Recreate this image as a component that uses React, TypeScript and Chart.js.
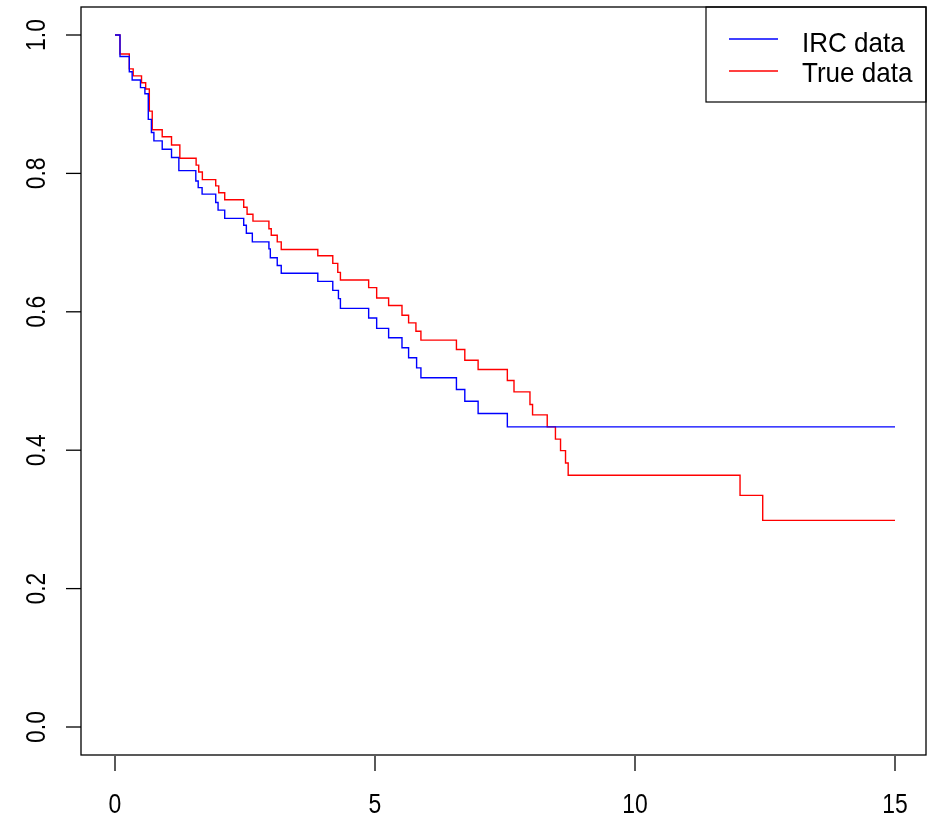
import React, { useEffect, useRef } from "react";
import { Chart, registerables } from "chart.js";

Chart.register(...registerables);

// Kaplan-Meier step data (time, survival after the step)
const ircTimes = [0, 0.096, 0.275, 0.33, 0.49, 0.575, 0.64, 0.7, 0.748, 0.908, 1.087, 1.228, 1.554, 1.6, 1.675, 1.937, 1.982, 2.11, 2.475, 2.526, 2.641, 2.96, 2.987, 3.12, 3.197, 3.9, 4.188, 4.297, 4.335, 4.878, 5.032, 5.262, 5.519, 5.646, 5.8, 5.883, 6.566, 6.727, 6.983, 7.545, 15];
const ircSurv = [1, 0.969, 0.947, 0.935, 0.924, 0.915, 0.878, 0.859, 0.847, 0.835, 0.823, 0.804, 0.789, 0.7795, 0.77, 0.758, 0.747, 0.735, 0.725, 0.7135, 0.701, 0.691, 0.678, 0.667, 0.6556, 0.644, 0.631, 0.619, 0.605, 0.591, 0.576, 0.5625, 0.548, 0.5335, 0.519, 0.5046, 0.4877, 0.4708, 0.453, 0.4337, 0.4337];

const trueTimes = [0, 0.096, 0.275, 0.35, 0.51, 0.59, 0.66, 0.716, 0.908, 1.087, 1.247, 1.56, 1.61, 1.68, 1.937, 1.995, 2.11, 2.475, 2.54, 2.653, 2.96, 3.005, 3.12, 3.197, 3.9, 4.188, 4.284, 4.335, 4.878, 5.032, 5.262, 5.519, 5.646, 5.787, 5.883, 6.566, 6.727, 6.983, 7.545, 7.673, 7.98, 8.03, 8.312, 8.47, 8.568, 8.664, 8.715, 12.02, 12.456, 15];
const trueSurv = [1, 0.9725, 0.951, 0.941, 0.931, 0.922, 0.89, 0.863, 0.853, 0.841, 0.822, 0.812, 0.802, 0.791, 0.782, 0.772, 0.762, 0.751, 0.741, 0.731, 0.72, 0.7106, 0.701, 0.69, 0.681, 0.67, 0.657, 0.646, 0.635, 0.62, 0.609, 0.595, 0.584, 0.572, 0.559, 0.5456, 0.53, 0.5166, 0.5007, 0.4843, 0.466, 0.451, 0.4337, 0.416, 0.3994, 0.3816, 0.3637, 0.3347, 0.2986, 0.2986];

const xTicks = [0, 5, 10, 15];
const xTickLabels = ["0", "5", "10", "15"];
const yTicks = [0, 0.2, 0.4, 0.6, 0.8, 1.0];
const yTickLabels = ["0.0", "0.2", "0.4", "0.6", "0.8", "1.0"];
const seriesLabels = ["IRC data", "True data"];
const seriesColors = ["#0000FF", "#FF0000"];

const FONT = '"Liberation Sans", Arial, Helvetica, sans-serif';

function scaledText(ctx: CanvasRenderingContext2D, text: string, x: number, y: number, sx: number, align: CanvasTextAlign, rotate = 0) {
  ctx.save();
  ctx.translate(x, y);
  if (rotate) ctx.rotate(rotate);
  ctx.scale(sx, 1);
  ctx.textAlign = align;
  ctx.textBaseline = "alphabetic";
  ctx.fillText(text, 0, 0);
  ctx.restore();
}

const framePlugin = {
  id: "rframe",
  afterDraw(chart: any) {
    const ctx: CanvasRenderingContext2D = chart.ctx;
    const { left, right, top, bottom } = chart.chartArea;
    const xs = chart.scales.x;
    const ys = chart.scales.y;
    ctx.save();
    ctx.strokeStyle = "#000";
    ctx.fillStyle = "#000";
    ctx.lineWidth = 1.3;
    ctx.strokeRect(left, top, right - left, bottom - top);

    // x ticks and labels
    ctx.font = `27px ${FONT}`;
    xTicks.forEach((v, i) => {
      const px = xs.getPixelForValue(v);
      ctx.beginPath();
      ctx.moveTo(px, bottom + 1);
      ctx.lineTo(px, bottom + 16);
      ctx.stroke();
      scaledText(ctx, xTickLabels[i], px, 812.5, 0.85, "center");
    });

    // y ticks and labels
    yTicks.forEach((v, i) => {
      const py = ys.getPixelForValue(v);
      ctx.beginPath();
      ctx.moveTo(left - 15, py);
      ctx.lineTo(left, py);
      ctx.stroke();
      scaledText(ctx, yTickLabels[i], 44.5, py, 0.85, "center", -Math.PI / 2);
    });

    // legend (top right)
    const lx = 706;
    const ly = top;
    ctx.lineWidth = 1.2;
    ctx.strokeRect(lx, ly, right - lx, 102 - ly);
    ctx.font = `28px ${FONT}`;
    const lineY = [39, 71];
    const textY = [51.7, 82.3];
    seriesLabels.forEach((label, i) => {
      ctx.strokeStyle = seriesColors[i];
      ctx.lineWidth = 1.3;
      ctx.beginPath();
      ctx.moveTo(729, lineY[i]);
      ctx.lineTo(778, lineY[i]);
      ctx.stroke();
      ctx.fillStyle = "#000";
      scaledText(ctx, label, 802, textY[i], 0.93, "left");
    });
    ctx.restore();
  },
};

export default function App() {
  const ref = useRef<HTMLCanvasElement | null>(null);

  useEffect(() => {
    if (!ref.current) return;
    const toPts = (t: number[], s: number[]) => t.map((x, i) => ({ x, y: s[i] }));
    const chart = new Chart(ref.current, {
      type: "line",
      data: {
        datasets: [
          {
            label: seriesLabels[0],
            data: toPts(ircTimes, ircSurv),
            borderColor: seriesColors[0],
            borderWidth: 1.4,
            stepped: "before",
            pointRadius: 0,
            fill: false,
          },
          {
            label: seriesLabels[1],
            data: toPts(trueTimes, trueSurv),
            borderColor: seriesColors[1],
            borderWidth: 1.4,
            stepped: "before",
            pointRadius: 0,
            fill: false,
          },
        ],
      },
      options: {
        responsive: false,
        animation: false,
        layout: { padding: { left: 81, right: 1, top: 7, bottom: 62 } },
        plugins: { legend: { display: false }, tooltip: { enabled: false } },
        scales: {
          x: { type: "linear", display: false, min: -34 / 52, max: 15 + 31 / 52 },
          y: { type: "linear", display: false, min: -28 / 692, max: 1 + 28 / 692 },
        },
        elements: { point: { radius: 0 }, line: { tension: 0 } },
      },
      plugins: [framePlugin],
    } as any);
    return () => chart.destroy();
  }, []);

  return (
    <div style={{ position: "absolute", left: 0, top: 0, width: 927, height: 817, background: "#fff" }}>
      <canvas ref={ref} width={927} height={817} style={{ display: "block" }} />
    </div>
  );
}
